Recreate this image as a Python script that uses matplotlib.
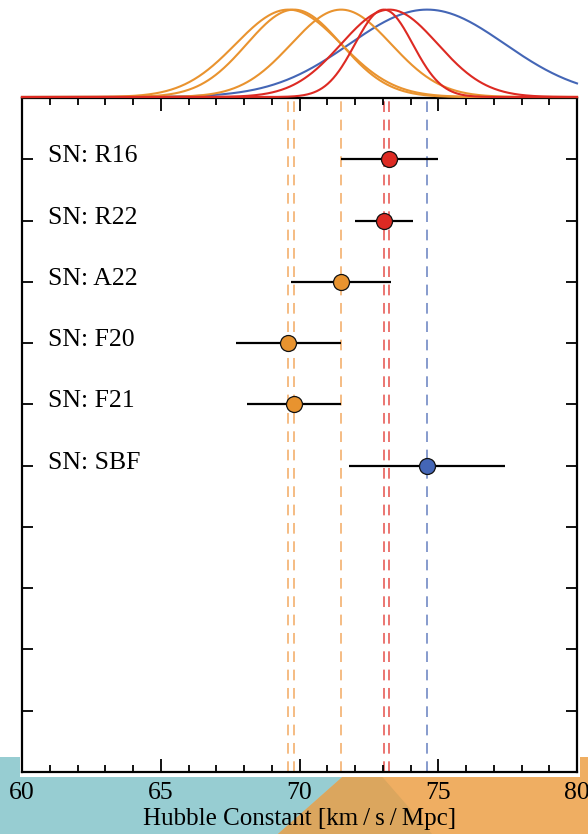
# Hubble constant from supernova calibrations, with gaussian summary on top

import numpy as np
import matplotlib.pyplot as plt
from matplotlib.patches import Polygon, Rectangle

labels = ['SN: R16', 'SN: R22', 'SN: A22', 'SN: F20', 'SN: F21', 'SN: SBF']
h0 = [73.24, 73.04, 71.5, 69.6, 69.8, 74.6]
err = [1.74, 1.04, 1.8, 1.9, 1.7, 2.8]
groups = ['red', 'red', 'orange', 'orange', 'orange', 'blue']

n_rows = 10  # empty slots below the last entry
x_ticks = [60, 65, 70, 75, 80]

marker_col = {'red': '#DD2A23', 'orange': '#E8932F', 'blue': '#4466B6'}
dash_col = {'red': '#E5504A', 'orange': '#F2AA62', 'blue': '#6680C0'}
curve_col = {'red': '#DD2A23', 'orange': '#E9932F', 'blue': '#4466B6'}

plt.rcParams['font.family'] = ['Liberation Serif', 'DejaVu Serif']

W, H = 588, 834
fig = plt.figure(figsize=(W / 100, H / 100), dpi=100)
fig.patch.set_facecolor('white')


def fx(px):
    return px / W


def fy(py):
    return 1 - py / H


# slide-like background at the bottom
teal, orange, dark = '#97CDD2', '#EFAE62', '#DBA65E'
fig.patches.append(Rectangle((0, 0), 1, fy(757), transform=fig.transFigure,
                             facecolor=teal, edgecolor='none', zorder=-10))
fig.patches.append(Polygon([(fx(365), fy(757)), (1, fy(757)), (1, 0), (fx(278), 0)],
                           transform=fig.transFigure, facecolor=orange,
                           edgecolor='none', zorder=-9))
fig.patches.append(Polygon([(fx(365), fy(757)), (fx(432), 0), (fx(278), 0)],
                           transform=fig.transFigure, facecolor=dark,
                           edgecolor='none', zorder=-8))
fig.patches.append(Rectangle((fx(20), fy(777)), fx(580) - fx(20), 1 - fy(777),
                             transform=fig.transFigure, facecolor='white',
                             edgecolor='none', zorder=-7))

# main panel
ax = fig.add_axes([fx(22), fy(772), fx(577) - fx(22), fy(98) - fy(772)])
ax.set_xlim(60, 80)
ax.set_ylim(n_rows, -1)

for m, g in zip(h0, groups):
    ax.axvline(m, color=dash_col[g], lw=1.1, dashes=(7, 5), zorder=1)

for i, (m, e, g) in enumerate(zip(h0, err, groups)):
    ax.plot([m - e, m + e], [i, i], color='black', lw=1.6, zorder=2,
            solid_capstyle='butt')
    ax.plot(m, i, 'o', ms=11.5, mfc=marker_col[g], mec='#111111', mew=0.9, zorder=3)
    ax.text(60.95, i + 0.05, labels[i], fontsize=18.5, va='baseline', ha='left')

ax.set_xticks(x_ticks)
ax.set_xticks(np.arange(60, 81, 1), minor=True)
ax.set_yticks(np.arange(n_rows))
ax.set_yticklabels([])
ax.tick_params(axis='x', which='major', direction='in', length=9.5, width=1.3,
               top=True, labelsize=18.5, pad=7)
ax.tick_params(axis='x', which='minor', direction='in', length=5, width=1.3, top=True)
ax.tick_params(axis='y', which='major', direction='in', length=8, width=1.3,
               right=True)
ax.set_xlabel('Hubble Constant [km\u2009/\u2009s\u2009/\u2009Mpc]', fontsize=18, labelpad=3)
for s in ax.spines.values():
    s.set_linewidth(1.6)

# top panel: normalised gaussians
top = fig.add_axes([fx(22), fy(97), fx(577) - fx(22), 1 - fy(97)])
top.set_xlim(60, 80)
top.set_ylim(0, 1.11)
top.axis('off')
xs = np.linspace(60, 80, 600)
order = [5, 4, 3, 2, 1, 0]
for i in order:
    y = np.exp(-0.5 * ((xs - h0[i]) / err[i]) ** 2)
    top.plot(xs, y, color=curve_col[groups[i]], lw=1.5, clip_on=False)

fig.savefig('out.png', dpi=100)
